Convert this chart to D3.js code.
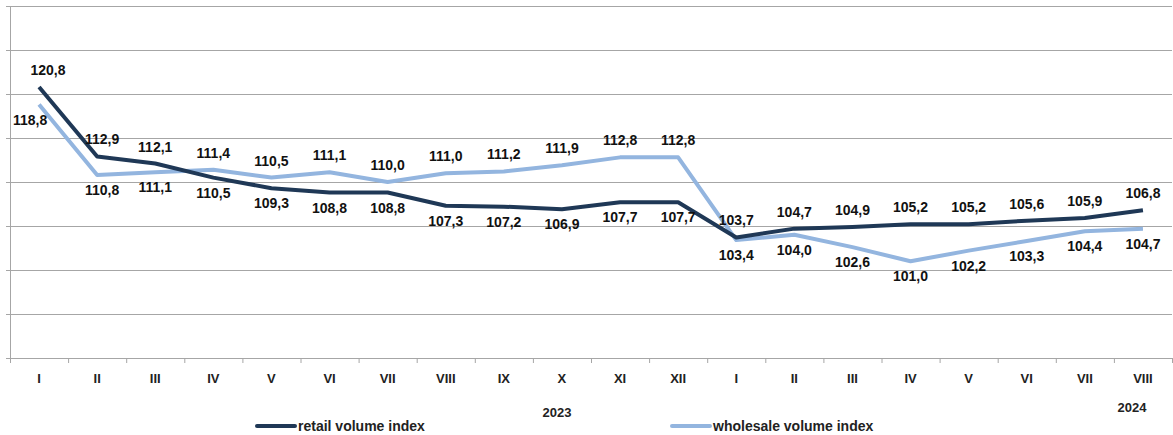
<!DOCTYPE html>
<html>
<head>
<meta charset="utf-8">
<script src="https://cdn.jsdelivr.net/npm/d3@7"></script>
<style>
  body { margin: 0; background: #fff; }
  text { font-family: "Liberation Sans", Arial, sans-serif; }
</style>
</head>
<body>
<div class="canvas"></div>
<script>
const months = ['I','II','III','IV','V','VI','VII','VIII','IX','X','XI','XII',
                'I','II','III','IV','V','VI','VII','VIII'];
const retail = [120.8,112.9,112.1,110.5,109.3,108.8,108.8,107.3,107.2,106.9,107.7,107.7,
                103.7,104.7,104.9,105.2,105.2,105.6,105.9,106.8];
const wholesale = [118.8,110.8,111.1,111.4,110.5,111.1,110.0,111.0,111.2,111.9,112.8,112.8,
                   103.4,104.0,102.6,101.0,102.2,103.3,104.4,104.7];
const years = ['2023', '2024'];
const yTicks = [90, 95, 100, 105, 110, 115, 120, 125, 130];

const svg = d3.select('.canvas')
    .append('svg')
    .attr('width', 1173)
    .attr('height', 435);

const x = d3.scaleBand()
    .domain(months.map((m, i) => i))
    .range([10, 1172]);

const y = d3.scaleLinear()
    .domain([90, 130])
    .range([358, 6]);

const cx = i => x(i) + x.bandwidth() / 2;

// gridlines
svg.selectAll('.grid')
    .data(yTicks.slice(1))
    .enter()
    .append('line')
    .attr('x1', 6)
    .attr('x2', 1172)
    .attr('y1', d => y(d) + 0.5)
    .attr('y2', d => y(d) + 0.5)
    .attr('stroke', '#a6a6a6')
    .attr('stroke-width', 1);

// left axis
svg.append('line')
    .attr('x1', 10.5).attr('x2', 10.5)
    .attr('y1', y(130)).attr('y2', y(90))
    .attr('stroke', '#a6a6a6');

// bottom axis
svg.append('line')
    .attr('x1', 6).attr('x2', 1172)
    .attr('y1', y(90) + 0.5).attr('y2', y(90) + 0.5)
    .attr('stroke', '#a6a6a6');

svg.selectAll('.tick')
    .data(months.map((m, i) => i).concat([20]))
    .enter()
    .append('line')
    .attr('x1', d => (d < 20 ? x(d) : 1172) + 0.5)
    .attr('x2', d => (d < 20 ? x(d) : 1172) + 0.5)
    .attr('y1', y(90))
    .attr('y2', y(90) + 5)
    .attr('stroke', '#a6a6a6');

svg.selectAll('.month')
    .data(months)
    .enter()
    .append('text')
    .attr('x', (d, i) => cx(i))
    .attr('y', 383)
    .attr('text-anchor', 'middle')
    .attr('font-size', 13)
    .attr('font-weight', 'bold')
    .attr('fill', '#222')
    .text(d => d);

svg.selectAll('.year')
    .data(years)
    .enter()
    .append('text')
    .attr('x', (d, i) => i === 0 ? 557 : 1132)
    .attr('y', (d, i) => i === 0 ? 417 : 412)
    .attr('text-anchor', 'middle')
    .attr('font-size', 13)
    .attr('font-weight', 'bold')
    .attr('fill', '#222')
    .text(d => d);

// lines
const line = d3.line()
    .x((d, i) => cx(i))
    .y(d => y(d));

const series = [
    { name: 'wholesale volume index', values: wholesale, color: '#93b5df', other: retail },
    { name: 'retail volume index', values: retail, color: '#1f3856', other: wholesale }
];

series.forEach(s => {
    svg.append('path')
        .datum(s.values)
        .attr('d', line)
        .attr('fill', 'none')
        .attr('stroke', s.color)
        .attr('stroke-width', 4)
        .attr('stroke-linejoin', 'round');
});

// data labels: higher series above, lower below
series.forEach(s => {
    svg.selectAll(null)
        .data(s.values)
        .enter()
        .append('text')
        .attr('x', (d, i) => cx(i) + (i === 0 ? (d >= s.other[i] ? 9 : -9) : (i === 1 ? 5 : 0)))
        .attr('y', (d, i) => d >= s.other[i] ? y(d) - 12 : y(d) + 20)
        .attr('text-anchor', 'middle')
        .attr('font-size', 14)
        .attr('font-weight', 'bold')
        .attr('fill', '#111')
        .text(d => d.toFixed(1).replace('.', ','));
});

// legend
const legend = [series[1], series[0]];
legend.forEach((s, i) => {
    const lx = i === 0 ? 257 : 672;
    svg.append('line')
        .attr('x1', lx).attr('x2', lx + 38)
        .attr('y1', 426).attr('y2', 426)
        .attr('stroke', s.color)
        .attr('stroke-width', 4)
        .attr('stroke-linecap', 'round');
    svg.append('text')
        .attr('x', lx + 41)
        .attr('y', 431)
        .attr('font-size', 14)
        .attr('font-weight', 'bold')
        .attr('fill', '#222')
        .text(s.name);
});
</script>
</body>
</html>
